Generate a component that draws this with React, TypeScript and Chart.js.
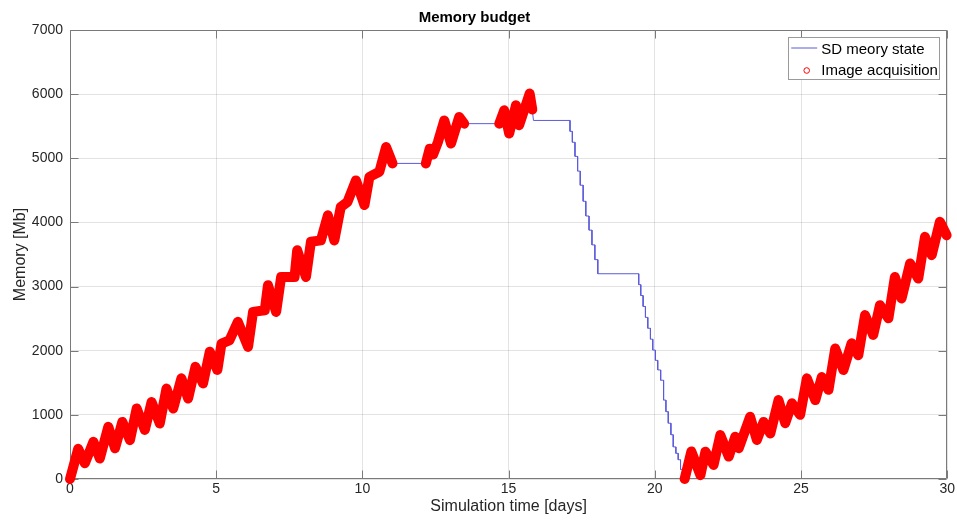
import React, { useEffect, useRef } from 'react';
import { Chart, registerables } from 'chart.js';

Chart.register(...registerables);

// ---- Data (simulation day, memory in Mb) ----
const stateDays: number[] = [
  0, 0.28, 0.51, 0.8, 1.02, 1.31, 1.54, 1.79, 2.05, 2.28, 2.56, 2.79, 3.07, 3.3, 3.53, 3.81,
  4.04, 4.29, 4.55, 4.78, 5.04, 5.18, 5.45, 5.74, 6.09, 6.26, 6.66, 6.77, 7.05, 7.22, 7.68,
  7.77, 8.07, 8.24, 8.58, 8.82, 9.04, 9.26, 9.49, 9.78, 10.07, 10.24, 10.58, 10.81, 11.03,
  12.17, 12.3, 12.42, 12.58, 12.8, 13.03, 13.31, 13.48,
  14.68, 14.85, 15.02, 15.25, 15.36, 15.72, 15.81,
  15.85, 17.1, 17.1, 17.18, 17.18, 17.27, 17.27, 17.36, 17.36, 17.45, 17.45, 17.55, 17.55,
  17.64, 17.64, 17.75, 17.75, 17.85, 17.85, 17.95, 17.95, 18.05, 18.05,
  19.45, 19.45, 19.52, 19.52, 19.6, 19.6, 19.68, 19.68, 19.76, 19.76, 19.85, 19.85, 19.93,
  19.93, 20.02, 20.02, 20.1, 20.1, 20.2, 20.2, 20.3, 20.3, 20.38, 20.38, 20.46, 20.46, 20.55,
  20.55, 20.63, 20.63, 20.72, 20.72, 20.8, 20.8, 20.88, 20.88, 20.95, 20.95,
  21.02, 21.25, 21.56, 21.73, 22.01, 22.24, 22.53, 22.75, 22.87, 23.26, 23.49, 23.72, 23.95,
  24.23, 24.46, 24.69, 24.97, 25.2, 25.49, 25.71, 25.94, 26.17, 26.45, 26.73, 26.96, 27.19,
  27.47, 27.7, 27.99, 28.21, 28.44, 28.73, 29.01, 29.24, 29.47, 29.75, 29.98,
];

const stateMb: number[] = [
  0, 470, 245, 580, 320, 815, 480, 890, 605, 1100, 765, 1200, 865, 1410, 1100, 1570,
  1255, 1750, 1490, 1985, 1700, 2110, 2160, 2450, 2060, 2605, 2630, 3020, 2605, 3150, 3150,
  3565, 3150, 3700, 3720, 4110, 3720, 4240, 4320, 4655, 4270, 4710, 4790, 5175, 4920,
  4920, 5150, 5060, 5250, 5590, 5230, 5645, 5540,
  5540, 5750, 5385, 5825, 5515, 6010, 5760,
  5590, 5590, 5420, 5420, 5250, 5250, 5030, 5030, 4800, 4800, 4580, 4580, 4330,
  4330, 4100, 4100, 3880, 3880, 3650, 3650, 3420, 3420, 3200,
  3200, 3030, 3030, 2860, 2860, 2690, 2690, 2520, 2520, 2350, 2350, 2180, 2180,
  2010, 2010, 1850, 1850, 1700, 1700, 1540, 1540, 1230, 1230, 1050, 1050, 870,
  870, 690, 690, 500, 500, 400, 400, 300, 300, 150, 150, 0,
  0, 430, 60, 425, 220, 685, 350, 660, 480, 970, 610, 890, 710,
  1230, 870, 1180, 1000, 1570, 1230, 1590, 1390, 2035, 1700, 2115, 1930, 2555,
  2245, 2710, 2505, 3150, 2815, 3360, 3125, 3775, 3490, 4010, 3800,
];

// Periods (days) during which images are acquired
const acquisitionStart: number[] = [0, 12.17, 14.68, 21.02];
const acquisitionEnd: number[] = [11.03, 13.48, 15.81, 30];

const xTickStep = 5;
const yTickStep = 1000;
const xRange = [0, 30];
const yRange = [0, 7000];

const titleText = 'Memory budget';
const xTitle = 'Simulation time [days]';
const yTitle = 'Memory [Mb]';
const seriesLabels = ['SD meory state', 'Image acquisition'];

const FONT = '"Liberation Sans", Arial, Helvetica, sans-serif';
const AXIS_COLOR = '#262626';
const BLUE = '#5b5bdc';
const RED = '#ff0000';

const windowOf = (d: number) =>
  acquisitionStart.findIndex((s, i) => d >= s - 1e-9 && d <= acquisitionEnd[i] + 1e-9);

const matlabAxes = {
  id: 'matlabAxes',
  beforeDatasetsDraw(chart: any) {
    const { ctx, chartArea: a, scales } = chart;
    ctx.save();
    ctx.strokeStyle = '#7a7a7a';
    ctx.lineWidth = 1;
    const l = Math.round(a.left) + 0.5;
    const r = Math.round(a.right) - 0.5;
    const t = Math.round(a.top) + 0.5;
    const b = Math.round(a.bottom) - 0.5;
    ctx.beginPath();
    ctx.rect(l, t, r - l, b - t);
    ctx.stroke();
    const len = 8;
    ctx.beginPath();
    scales.x.ticks.forEach((tk: any) => {
      const px = Math.round(scales.x.getPixelForValue(tk.value)) + 0.5;
      ctx.moveTo(px, b);
      ctx.lineTo(px, b - len);
      ctx.moveTo(px, t);
      ctx.lineTo(px, t + len);
    });
    scales.y.ticks.forEach((tk: any) => {
      const py = Math.round(scales.y.getPixelForValue(tk.value)) + 0.5;
      ctx.moveTo(l, py);
      ctx.lineTo(l + len, py);
      ctx.moveTo(r, py);
      ctx.lineTo(r - len, py);
    });
    ctx.stroke();
    ctx.restore();
  },
  afterDraw(chart: any) {
    const { ctx, chartArea: a } = chart;
    const x0 = a.right - 159;
    const x1 = a.right - 8;
    const y0 = a.top + 7;
    const y1 = a.top + 49;
    ctx.save();
    ctx.fillStyle = '#ffffff';
    ctx.fillRect(x0, y0, x1 - x0, y1 - y0);
    ctx.strokeStyle = '#9a9a9a';
    ctx.lineWidth = 1;
    ctx.strokeRect(Math.round(x0) + 0.5, Math.round(y0) + 0.5, x1 - x0, y1 - y0);
    ctx.strokeStyle = BLUE;
    ctx.beginPath();
    ctx.moveTo(x0 + 3, y0 + 11);
    ctx.lineTo(x0 + 29, y0 + 11);
    ctx.stroke();
    ctx.strokeStyle = RED;
    ctx.beginPath();
    ctx.arc(x0 + 18.5, y0 + 33.5, 2.8, 0, Math.PI * 2);
    ctx.stroke();
    ctx.fillStyle = '#000000';
    ctx.font = `15px ${FONT}`;
    ctx.textBaseline = 'middle';
    ctx.textAlign = 'left';
    ctx.fillText(seriesLabels[0], x0 + 33, y0 + 12.5);
    ctx.fillText(seriesLabels[1], x0 + 33, y0 + 33.5);
    ctx.restore();
  },
};

export default function App() {
  const canvasRef = useRef<HTMLCanvasElement | null>(null);

  useEffect(() => {
    if (!canvasRef.current) return;
    const statePoints = stateDays.map((d, i) => ({ x: d, y: stateMb[i] }));
    // acquisition points, with a gap between separate acquisition periods
    const acqPoints: { x: number; y: number | null }[] = [];
    let lastWin = -1;
    stateDays.forEach((d, i) => {
      const w = windowOf(d);
      if (w < 0) return;
      if (lastWin >= 0 && w !== lastWin) acqPoints.push({ x: d - 0.001, y: null });
      acqPoints.push({ x: d, y: stateMb[i] });
      lastWin = w;
    });

    const chart = new Chart(canvasRef.current, {
      type: 'line',
      data: {
        datasets: [
          {
            label: seriesLabels[0],
            data: statePoints,
            borderColor: BLUE,
            borderWidth: 1,
            pointRadius: 0,
            tension: 0,
            order: 2,
          },
          {
            label: seriesLabels[1],
            data: acqPoints as any,
            borderColor: RED,
            backgroundColor: RED,
            borderWidth: 10,
            borderCapStyle: 'round',
            borderJoinStyle: 'round',
            pointRadius: 0,
            spanGaps: false,
            tension: 0,
            clip: false as any,
            order: 1,
          },
        ],
      },
      options: {
        responsive: false,
        animation: false,
        events: [],
        layout: { padding: { left: 0, right: 8, top: 0, bottom: 0 } },
        plugins: {
          legend: { display: false },
          tooltip: { enabled: false },
          title: {
            display: true,
            text: titleText,
            color: '#000000',
            font: { family: FONT, size: 15, weight: 'bold' },
            padding: { top: 9, bottom: 3 },
          },
        },
        scales: {
          x: {
            type: 'linear',
            min: xRange[0],
            max: xRange[1],
            ticks: {
              stepSize: xTickStep,
              color: AXIS_COLOR,
              font: { family: FONT, size: 14 },
              padding: 2,
              maxRotation: 0,
              callback: (v: any) => String(v),
            },
            grid: { color: 'rgba(38,38,38,0.13)', drawTicks: false, lineWidth: 1 },
            border: { display: false },
            title: {
              display: true,
              text: xTitle,
              color: AXIS_COLOR,
              font: { family: FONT, size: 16 },
              padding: { top: 0, bottom: 8 },
            },
            afterFit: (scale: any) => {
              scale.height = 45;
            },
          },
          y: {
            type: 'linear',
            min: yRange[0],
            max: yRange[1],
            ticks: {
              stepSize: yTickStep,
              color: AXIS_COLOR,
              font: { family: FONT, size: 14 },
              padding: 7,
              callback: (v: any) => String(v),
            },
            grid: { color: 'rgba(38,38,38,0.13)', drawTicks: false, lineWidth: 1 },
            border: { display: false },
            title: {
              display: true,
              text: yTitle,
              color: AXIS_COLOR,
              font: { family: FONT, size: 16 },
              padding: { top: 11, bottom: 0 },
            },
            afterFit: (scale: any) => {
              scale.width = 70;
            },
          },
        },
      },
      plugins: [matlabAxes],
    });

    return () => chart.destroy();
  }, []);

  return (
    <div style={{ position: 'fixed', left: 0, top: 0, width: 957, height: 524, background: '#ffffff' }}>
      <canvas ref={canvasRef} width={957} height={524} style={{ display: 'block' }} />
    </div>
  );
}
